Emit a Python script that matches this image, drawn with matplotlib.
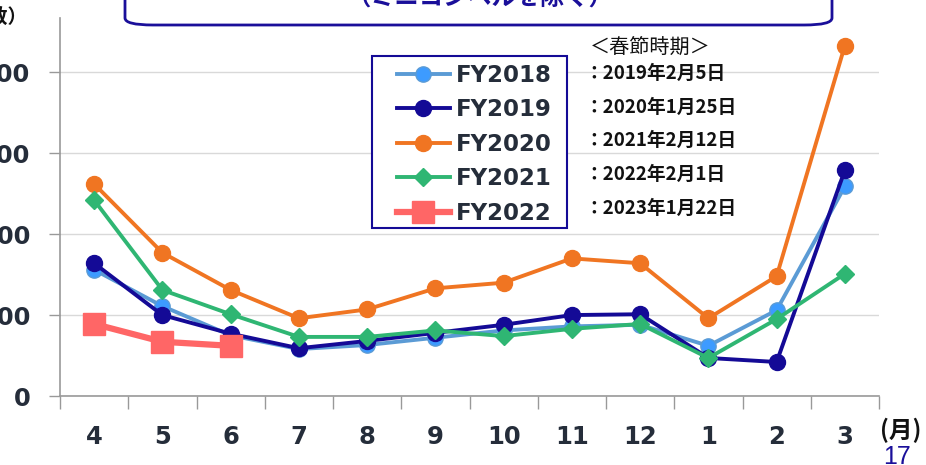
import matplotlib
matplotlib.use("Agg")
import matplotlib.pyplot as plt
from matplotlib.patches import FancyBboxPatch, Rectangle

plt.rcParams['font.family'] = ['DejaVu Sans', 'Noto Sans CJK JP']

months = ["4", "5", "6", "7", "8", "9", "10", "11", "12", "1", "2", "3"]
fy2018 = [156, 111, 75, 58, 63, 72, 81, 86, 88, 62, 106, 259]
fy2019 = [164, 100, 77, 59, 68, 78, 88, 100, 101, 47, 42, 279]
fy2020 = [262, 177, 131, 96, 107, 133, 140, 170, 164, 96, 148, 433]
fy2021 = [242, 131, 101, 73, 73, 81, 74, 83, 89, 47, 95, 151]
fy2022 = [89, 67, 62]
yticks = [0, 100, 200, 300, 400]
series_names = ["FY2018", "FY2019", "FY2020", "FY2021", "FY2022"]
spring_dates = ["：2019年2月5日", "：2020年1月25日", "：2021年2月12日",
                "：2022年2月1日", "：2023年1月22日"]

W, H = 926, 465
fig = plt.figure(figsize=(W / 100, H / 100), dpi=100)
ax = fig.add_axes([60 / W, 1 - 396 / H, (879 - 60) / W, (396 - 18) / H])

x = list(range(len(months)))
styles = [
    dict(color="#5b9bd5", marker="o", mfc="#3d9bff", mec="#5b9bd5", ms=11, lw=2.8),
    dict(color="#140a96", marker="o", mfc="#140a96", mec="#140a96", ms=11.5, lw=2.8),
    dict(color="#f07522", marker="o", mfc="#f07522", mec="#f07522", ms=11.5, lw=2.8),
    dict(color="#2fb673", marker="D", mfc="#2fb673", mec="#2fb673", ms=9, lw=2.8),
    dict(color="#ff6666", marker="s", mfc="#ff6666", mec="#ff6666", ms=16.5, lw=4.5),
]
data = [fy2018, fy2019, fy2020, fy2021, fy2022]
handles = []
for name, d, st in zip(series_names, data, styles):
    h, = ax.plot(x[:len(d)], d, label=name, zorder=3, clip_on=False, **st)
    handles.append(h)

ax.set_xlim(-0.5, 11.5)
ax.set_ylim(0, 467)
ax.set_yticks(yticks)
ax.set_yticklabels([str(v) for v in yticks])
ax.set_xticks(x)
ax.set_xticklabels(months)
ax.set_xticks([i + 0.5 for i in range(-1, 12)], minor=True)
ax.tick_params(axis='x', which='major', length=0, pad=21, labelsize=17.5,
               labelcolor="#252d3a")
ax.tick_params(axis='x', which='minor', length=9, color="#999999", width=1)
ax.tick_params(axis='y', length=8, color="#999999", width=1, pad=13.5,
               labelsize=17.5, labelcolor="#252d3a")
for lab in ax.get_xticklabels() + ax.get_yticklabels():
    lab.set_fontweight("bold")
ax.grid(axis='y', color="#d9d9d9", lw=1)
ax.set_axisbelow(True)
for s in ["top", "right"]:
    ax.spines[s].set_visible(False)
for s in ["left", "bottom"]:
    ax.spines[s].set_color("#999999")
    ax.spines[s].set_linewidth(1.2)

leg = fig.legend(handles=handles, loc="upper left",
                 bbox_to_anchor=(397 / W, 1 - 64 / H),
                 frameon=False,
                 prop=dict(family="DejaVu Sans", weight="bold", size=16.5),
                 handlelength=2.3, handletextpad=0.26, labelspacing=0.5,
                 borderpad=0, borderaxespad=0)
for t in leg.get_texts():
    t.set_color("#252d3a")
fig.patches.append(Rectangle((372 / W, 1 - 228 / H), (567 - 372) / W, (228 - 56) / H,
                             transform=fig.transFigure, fc="white", ec="#140a96",
                             lw=1.5, zorder=4))
leg.set_zorder(5)

fig.text(590 / W, 1 - 47 / H, "＜春節時期＞", fontsize=14.5, family="Noto Sans CJK JP",
         va="center", ha="left", color="#111111")
rows_y = [73, 107, 140, 174, 208]
for yy, t in zip(rows_y, spring_dates):
    fig.text(584 / W, 1 - yy / H, t, fontsize=13.5, family="Noto Sans CJK JP",
             weight="bold", va="center", ha="left", color="#111111")

# title box (cropped at top)
box = FancyBboxPatch((125 / W, 1 - 25 / H), (832 - 125) / W, 60 / H,
                     boxstyle="round,pad=0,rounding_size=0.03",
                     transform=fig.transFigure, fc="white", ec="#1a0f9a", lw=2,
                     mutation_aspect=H / W * 1.0, clip_on=False)
fig.patches.append(box)
fig.text(480 / W, 1 + 1 / H, "（ミニコンベルを除く）", fontsize=17.5,
         family="Noto Sans CJK JP", weight="bold", color="#1a0f9a",
         ha="center", va="center")

fig.text(27 / W, 1 - 17 / H, "（件数）", fontsize=14, family="Noto Sans CJK JP",
         weight="bold", ha="right", va="center", color="#111111")
fig.text(901 / W, 1 - 430 / H, "(月)", fontsize=17, family="Noto Sans CJK JP",
         weight="bold", ha="center", va="center", color="#111111")
fig.text(897 / W, 1 - 457 / H, "17", fontsize=18, family="Liberation Sans",
         ha="center", va="center", color="#1a0f9a")

fig.savefig("out.png", dpi=100)
